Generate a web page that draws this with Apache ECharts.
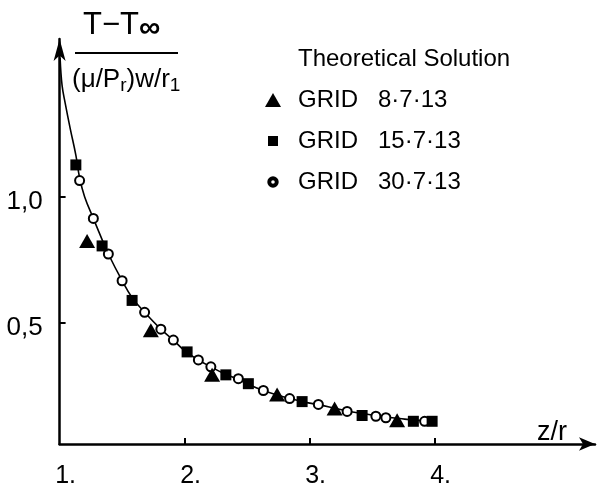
<!DOCTYPE html>
<html>
<head>
<meta charset="utf-8">
<script src="https://cdn.jsdelivr.net/npm/echarts@6/dist/echarts.min.js"></script>
<style>html,body{margin:0;padding:0;background:#fff}#c{width:604px;height:489px}</style>
</head>
<body>
<div id="c"></div>
<script>
// Theoretical solution curve
const curveX = [1.004, 1.02, 1.045, 1.085, 1.13, 1.16, 1.2, 1.27, 1.34, 1.39, 1.5, 1.58, 1.68, 1.81, 1.91, 2.0, 2.11, 2.21, 2.32, 2.43, 2.53, 2.63, 2.74, 2.84, 2.95, 3.07, 3.2, 3.3, 3.42, 3.53, 3.61, 3.72, 3.83, 3.92, 3.98];
const curveY = [1.55, 1.44, 1.37, 1.27, 1.165, 1.075, 1.0, 0.914, 0.83, 0.773, 0.667, 0.6, 0.542, 0.475, 0.432, 0.39, 0.353, 0.326, 0.298, 0.276, 0.252, 0.232, 0.214, 0.2, 0.187, 0.176, 0.162, 0.151, 0.141, 0.133, 0.127, 0.121, 0.115, 0.112, 0.11];
// GRID 8.7.13 (triangles)
const grid8X = [1.22, 1.73, 2.22, 2.74, 3.20, 3.70];
const grid8Y = [0.824, 0.471, 0.294, 0.216, 0.161, 0.114];
// GRID 15.7.13 (squares)
const grid15X = [1.13, 1.34, 1.58, 2.02, 2.33, 2.51, 2.94, 3.42, 3.83, 3.98];
const grid15Y = [1.126, 0.805, 0.589, 0.385, 0.294, 0.259, 0.188, 0.133, 0.110, 0.110];
// GRID 30.7.13 (open circles)
const grid30X = [1.16, 1.27, 1.39, 1.50, 1.68, 1.81, 1.91, 2.11, 2.21, 2.43, 2.63, 2.84, 3.07, 3.30, 3.53, 3.61, 3.92];
const grid30Y = [1.064, 0.914, 0.773, 0.667, 0.542, 0.475, 0.432, 0.353, 0.326, 0.279, 0.232, 0.200, 0.177, 0.149, 0.130, 0.124, 0.110];
// tick labels
const xTickValues = [1, 2, 3, 4];
const xTickLabels = ['1.', '2.', '3.', '4.'];
const yTickValues = [0.5, 1.0];
const yTickLabels = ['0,5', '1,0'];
const seriesNames = ['Theoretical Solution', 'GRID   8·7·13', 'GRID   15·7·13', 'GRID   30·7·13'];

const zip = (xs, ys) => xs.map((x, i) => [x, ys[i]]);
const FF = 'Liberation Sans';

// legend icons: 40x14 box (leading moveTo points fix the box), glyph centred
const ICON_TRI = 'path://M0,0M40,14M12,14L20,0L28,14Z';
const ICON_SQ = 'path://M0,0M40,14M15,2H25V12H15Z';
const ICON_RING = 'path://M0,0M40,14M15.3,7A4.7,4.7 0 1,1 24.7,7A4.7,4.7 0 1,1 15.3,7ZM17.2,7A2.8,2.8 0 1,0 22.8,7A2.8,2.8 0 1,0 17.2,7Z';

const chart = echarts.init(document.getElementById('c'), null, {renderer: 'canvas'});
chart.setOption({
  animation: false,
  backgroundColor: '#fff',
  textStyle: {fontFamily: FF, color: '#000'},
  grid: {left: 59.6, right: 9, top: 39, bottom: 41, containLabel: false},
  legend: {
    orient: 'vertical', left: 252, top: 47, padding: 0,
    itemWidth: 40, itemHeight: 14, itemGap: 17, symbolKeepAspect: true,
    textStyle: {fontSize: 24, color: '#000', fontFamily: FF},
    data: [
      {name: seriesNames[0], icon: 'none'},
      {name: seriesNames[1], icon: ICON_TRI},
      {name: seriesNames[2], icon: ICON_SQ},
      {name: seriesNames[3], icon: ICON_RING}
    ]
  },
  xAxis: {
    type: 'value', min: 1, max: 5.283,
    axisLine: {show: true, onZero: false, lineStyle: {color: '#000', width: 2.5}, symbol: ['none', 'arrow'], symbolSize: [10, 16]},
    axisTick: {show: true, inside: true, length: 6, lineStyle: {color: '#000', width: 2}, customValues: [2, 3, 4]},
    axisLabel: {
      customValues: xTickValues, color: '#000', margin: 20,
      formatter: v => '{v|' + (xTickLabels[xTickValues.indexOf(Math.round(v))] || '') + '}',
      rich: {v: {fontSize: 25, fontFamily: FF, color: '#000', padding: [0, 0, 0, 12]}}
    },
    splitLine: {show: false}
  },
  yAxis: {
    type: 'value', min: 0.02, max: 1.625,
    axisLine: {show: true, onZero: false, lineStyle: {color: '#000', width: 2.5}, symbol: ['none', 'arrow'], symbolSize: [9, 22]},
    axisTick: {show: true, inside: true, length: 6, lineStyle: {color: '#000', width: 2}, customValues: yTickValues},
    axisLabel: {
      customValues: yTickValues, color: '#000', margin: 17,
      formatter: v => '{v|' + (yTickLabels[yTickValues.indexOf(Math.round(v * 10) / 10)] || '') + '}',
      rich: {v: {fontSize: 26, fontFamily: FF, color: '#000', padding: [10, 0, 0, 0]}}
    },
    splitLine: {show: false}
  },
  series: [
    {
      name: seriesNames[0], type: 'line', data: zip(curveX, curveY), smooth: 0.4,
      showSymbol: false, symbol: 'none', z: 1,
      lineStyle: {color: '#000', width: 1.6}, itemStyle: {color: '#000'}
    },
    {
      name: seriesNames[3], type: 'scatter', data: zip(grid30X, grid30Y), symbol: 'emptyCircle', symbolSize: 9, z: 2,
      itemStyle: {color: '#000', borderColor: '#000', borderWidth: 2, opacity: 1}
    },
    {
      name: seriesNames[1], type: 'scatter', data: zip(grid8X, grid8Y), symbol: 'triangle', symbolSize: [16, 14], z: 3,
      itemStyle: {color: '#000', opacity: 1}
    },
    {
      name: seriesNames[2], type: 'scatter', data: zip(grid15X, grid15Y), symbol: 'rect', symbolSize: 11, z: 3,
      itemStyle: {color: '#000', opacity: 1}
    }
  ],
  graphic: [
    {type: 'text', left: 83, top: 10, style: {
      text: '{a|T−T}{b|∞}', rich: {a: {fontSize: 31, fontFamily: FF, fill: '#000'}, b: {fontSize: 30, fontWeight: 'bold', fontFamily: FF, fill: '#000', padding: [6, 0, 0, 0]}}
    }},
    {type: 'line', shape: {x1: 75, y1: 53, x2: 178, y2: 53}, style: {stroke: '#000', lineWidth: 2}},
    {type: 'text', left: 72, top: 67, style: {
      text: '{a|(μ/P}{s|r}{a|)w/r}{s|1}',
      rich: {a: {fontSize: 26, fontFamily: FF, fill: '#000'}, s: {fontSize: 19, fontFamily: FF, fill: '#000', padding: [12, 0, 0, 0]}}
    }},
    {type: 'text', left: 537, top: 419, style: {text: 'z/r', fontSize: 27, fontFamily: FF, fill: '#000'}}
  ]
});
</script>
</body>
</html>
